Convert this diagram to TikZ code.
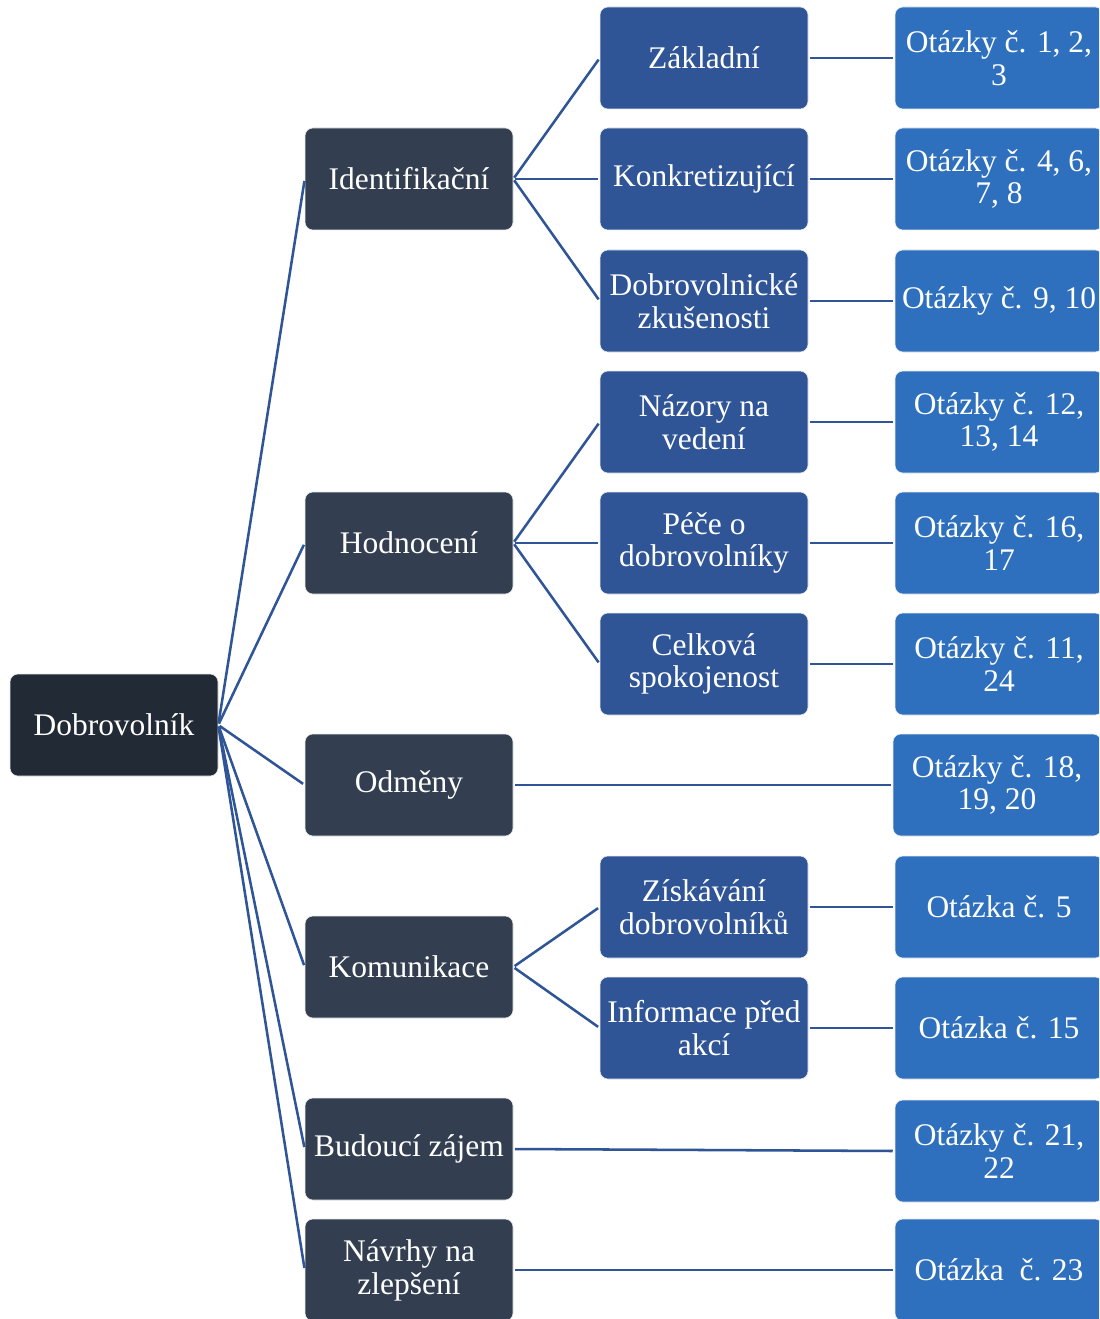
\documentclass[tikz,border=0pt]{standalone}
\usepackage{fontspec}
\setmainfont{Liberation Serif}
\definecolor{rootc}{HTML}{222A35}
\definecolor{lvla}{HTML}{333F50}
\definecolor{lvlb}{HTML}{2F5597}
\definecolor{lvlc}{HTML}{2E70BE}
\definecolor{linec}{HTML}{2F5597}
\tikzset{
  box/.style={rounded corners=6pt, minimum width=156pt, minimum height=76.5pt, inner sep=0pt,
    text=white, align=center, font=\fontsize{23.6}{24.6}\selectfont, draw=white!85!gray, line width=0.4pt},
  rootbox/.style={box, fill=rootc},
  abox/.style={box, fill=lvla},
  bbox/.style={box, fill=lvlb},
  cbox/.style={box, fill=lvlc},
  conn/.style={draw=linec, line width=1.9pt, shorten >=1.5pt, shorten <=1.2pt}
}
\begin{document}
\begin{tikzpicture}[x=0.75pt,y=-0.75pt]
\clip (0,0) rectangle (1099,1319);
\fill[white] (0,0) rectangle (1099,1319);
% root
\node[rootbox] (root) at (114,725) {Dobrovolník};
% level 1
\node[abox] (ide) at (409,179) {Identifikační};
\node[abox] (hod) at (409,543) {Hodnocení};
\node[abox] (odm) at (409,785) {Odměny};
\node[abox] (kom) at (409,967) {Komunikace};
\node[abox] (bud) at (409,1149) {Budoucí zájem};
\node[abox] (nav) at (409,1270) {Návrhy na\\zlepšení};
% level 2
\node[bbox] (zak) at (704,58) {Základní};
\node[bbox] (kon) at (704,179) {Konkretizující};
\node[bbox] (dob) at (704,301) {Dobrovolnické\\zkušenosti};
\node[bbox] (naz) at (704,422) {Názory na\\vedení};
\node[bbox] (pec) at (704,543) {Péče o\\dobrovolníky};
\node[bbox] (cel) at (704,664) {Celková\\spokojenost};
\node[bbox] (zis) at (704,907) {Získávání\\dobrovolníků};
\node[bbox] (inf) at (704,1028) {Informace před\\akcí};
% level 3
\node[cbox] (q1) at (999,58) {Otázky č. 1, 2,\\3};
\node[cbox] (q2) at (999,179) {Otázky č. 4, 6,\\7, 8};
\node[cbox] (q3) at (999,301) {Otázky č. 9, 10};
\node[cbox] (q4) at (999,422) {Otázky č. 12,\\13, 14};
\node[cbox] (q5) at (999,543) {Otázky č. 16,\\17};
\node[cbox] (q6) at (999,664) {Otázky č. 11,\\24};
\node[cbox] (q7) at (997,785) {Otázky č. 18,\\19, 20};
\node[cbox] (q8) at (999,907) {Otázka č. 5};
\node[cbox] (q9) at (999,1028) {Otázka č. 15};
\node[cbox] (q10) at (999,1151) {Otázky č. 21,\\22};
\node[cbox] (q11) at (999,1270) {Otázka\ \ č. 23};
% connectors
\foreach \n in {ide,hod,odm,kom,bud,nav} \draw[conn] (root.east) -- (\n.west);
\foreach \n in {zak,kon,dob} \draw[conn] (ide.east) -- (\n.west);
\foreach \n in {naz,pec,cel} \draw[conn] (hod.east) -- (\n.west);
\foreach \n in {zis,inf} \draw[conn] (kom.east) -- (\n.west);
\draw[conn] (zak.east) -- (q1.west);
\draw[conn] (kon.east) -- (q2.west);
\draw[conn] (dob.east) -- (q3.west);
\draw[conn] (naz.east) -- (q4.west);
\draw[conn] (pec.east) -- (q5.west);
\draw[conn] (cel.east) -- (q6.west);
\draw[conn] (odm.east) -- (q7.west);
\draw[conn] (zis.east) -- (q8.west);
\draw[conn] (inf.east) -- (q9.west);
\draw[conn] (bud.east) -- (q10.west);
\draw[conn] (nav.east) -- (q11.west);
\end{tikzpicture}
\end{document}
